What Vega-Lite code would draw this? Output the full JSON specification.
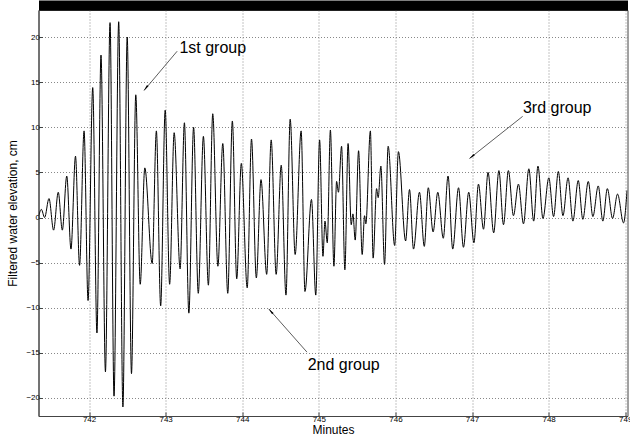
{
  "$schema": "https://vega.github.io/schema/vega-lite/v6.json",
  "width": 589,
  "height": 406,
  "autosize": {"type": "none"},
  "padding": {"left": 38.5, "top": 10, "right": 2.5, "bottom": 25},
  "background": "white",
  "config": {
    "font": "Liberation Sans",
    "view": {"stroke": "#444", "strokeWidth": 1}
  },
  "datasets": {
    "wave": [
      {"t": 741.344, "v": 0.2}, {"t": 741.377, "v": 0.9}, {"t": 741.420, "v": 0.0},
      {"t": 741.477, "v": 2.1}, {"t": 741.537, "v": -1.4}, {"t": 741.598, "v": 2.8},
      {"t": 741.651, "v": -1.4}, {"t": 741.709, "v": 4.6}, {"t": 741.764, "v": -3.5},
      {"t": 741.823, "v": 6.8}, {"t": 741.876, "v": -5.3}, {"t": 741.935, "v": 9.6},
      {"t": 741.987, "v": -9.2}, {"t": 742.048, "v": 14.4}, {"t": 742.103, "v": -12.8},
      {"t": 742.156, "v": 18.0}, {"t": 742.214, "v": -17.1}, {"t": 742.274, "v": 21.6},
      {"t": 742.326, "v": -19.8}, {"t": 742.387, "v": 21.7}, {"t": 742.442, "v": -21.0},
      {"t": 742.498, "v": 20.0}, {"t": 742.554, "v": -17.3}, {"t": 742.610, "v": 13.6},
      {"t": 742.668, "v": -7.4}, {"t": 742.728, "v": 5.5}, {"t": 742.824, "v": -5.1},
      {"t": 742.879, "v": 9.6}, {"t": 742.935, "v": -9.8}, {"t": 742.994, "v": 11.9},
      {"t": 743.052, "v": -7.4}, {"t": 743.111, "v": 9.4}, {"t": 743.189, "v": -5.7},
      {"t": 743.245, "v": 10.5}, {"t": 743.303, "v": -10.6}, {"t": 743.365, "v": 10.0},
      {"t": 743.426, "v": -8.4}, {"t": 743.493, "v": 9.0}, {"t": 743.558, "v": -7.5},
      {"t": 743.615, "v": 11.5}, {"t": 743.682, "v": -5.4}, {"t": 743.746, "v": 8.2},
      {"t": 743.811, "v": -8.4}, {"t": 743.871, "v": 10.7}, {"t": 743.928, "v": -6.8},
      {"t": 743.988, "v": 6.0}, {"t": 744.065, "v": -7.8}, {"t": 744.121, "v": 8.7},
      {"t": 744.184, "v": -6.7}, {"t": 744.245, "v": 4.2}, {"t": 744.319, "v": -6.3},
      {"t": 744.378, "v": 8.6}, {"t": 744.443, "v": -6.3}, {"t": 744.509, "v": 5.8},
      {"t": 744.571, "v": -8.6}, {"t": 744.626, "v": 10.9}, {"t": 744.691, "v": -4.1},
      {"t": 744.769, "v": 9.6}, {"t": 744.819, "v": -8.2}, {"t": 744.904, "v": 2.0},
      {"t": 744.960, "v": -8.6}, {"t": 745.010, "v": 8.6}, {"t": 745.054, "v": -4.3},
      {"t": 745.080, "v": -0.4}, {"t": 745.110, "v": -2.8}, {"t": 745.151, "v": 9.7},
      {"t": 745.197, "v": -5.4}, {"t": 745.232, "v": 4.0}, {"t": 745.256, "v": 2.8},
      {"t": 745.297, "v": 7.9}, {"t": 745.340, "v": -5.8}, {"t": 745.382, "v": 8.2},
      {"t": 745.423, "v": -0.8}, {"t": 745.445, "v": 0.4}, {"t": 745.475, "v": -2.5},
      {"t": 745.519, "v": 7.4}, {"t": 745.566, "v": -4.1}, {"t": 745.597, "v": 0.2},
      {"t": 745.614, "v": -0.7}, {"t": 745.673, "v": 9.6}, {"t": 745.709, "v": -4.5},
      {"t": 745.754, "v": 3.2}, {"t": 745.775, "v": 2.2}, {"t": 745.810, "v": 5.7},
      {"t": 745.858, "v": -5.2}, {"t": 745.905, "v": 7.9}, {"t": 745.990, "v": -3.1},
      {"t": 746.039, "v": 7.3}, {"t": 746.133, "v": -2.6}, {"t": 746.184, "v": 3.1},
      {"t": 746.236, "v": -3.5}, {"t": 746.314, "v": 2.8}, {"t": 746.377, "v": -3.2},
      {"t": 746.429, "v": 3.3}, {"t": 746.492, "v": -1.6}, {"t": 746.553, "v": 2.8},
      {"t": 746.625, "v": -2.3}, {"t": 746.687, "v": 4.6}, {"t": 746.748, "v": -3.5},
      {"t": 746.824, "v": 3.3}, {"t": 746.888, "v": -3.3}, {"t": 746.957, "v": 2.8},
      {"t": 747.025, "v": -2.8}, {"t": 747.084, "v": 3.7}, {"t": 747.150, "v": -1.3},
      {"t": 747.209, "v": 5.0}, {"t": 747.283, "v": -1.7}, {"t": 747.351, "v": 5.2},
      {"t": 747.411, "v": -0.8}, {"t": 747.475, "v": 5.2}, {"t": 747.541, "v": 0.2},
      {"t": 747.606, "v": 3.7}, {"t": 747.672, "v": -0.7}, {"t": 747.742, "v": 5.4},
      {"t": 747.805, "v": -0.4}, {"t": 747.861, "v": 5.7}, {"t": 747.926, "v": -0.1},
      {"t": 748.003, "v": 4.4}, {"t": 748.065, "v": 0.1}, {"t": 748.127, "v": 5.1},
      {"t": 748.187, "v": 0.2}, {"t": 748.254, "v": 4.4}, {"t": 748.317, "v": -0.4},
      {"t": 748.387, "v": 4.1}, {"t": 748.447, "v": -0.2}, {"t": 748.518, "v": 4.0},
      {"t": 748.578, "v": 0.1}, {"t": 748.648, "v": 3.5}, {"t": 748.708, "v": -0.4},
      {"t": 748.767, "v": 3.2}, {"t": 748.835, "v": -0.1}, {"t": 748.900, "v": 2.6},
      {"t": 748.978, "v": -0.6}, {"t": 749.024, "v": 3.0}
    ],
    "notes": [
      {"label": "1st group", "t": 743.180, "v": 18.27, "t0": 743.150, "v0": 18.43, "t1": 742.720, "v1": 14.10, "th": 742.748, "vh": 14.42},
      {"label": "2nd group", "t": 744.854, "v": -16.91, "t0": 744.845, "v0": -14.92, "t1": 744.349, "v1": -10.15, "th": 744.380, "vh": -10.46},
      {"label": "3rd group", "t": 747.665, "v": 11.63, "t0": 747.661, "v0": 11.21, "t1": 746.970, "v1": 6.56, "th": 747.005, "vh": 6.80}
    ]
  },
  "resolve": {"axis": {"x": "independent"}},
  "layer": [
    {
      "data": {"name": "wave"},
      "mark": {"type": "line", "interpolate": "monotone", "color": "#000", "strokeWidth": 1, "clip": true},
      "encoding": {
        "x": {
          "field": "t", "type": "quantitative",
          "scale": {"domain": [741.34, 749.03], "nice": false, "zero": false},
          "axis": {
            "values": [742, 743, 744, 745, 746, 747, 748, 749], "format": "d",
            "title": "Minutes", "titleFontSize": 12, "titleFontWeight": "normal", "titleColor": "#000", "titlePadding": 1,
            "labelFontSize": 8, "labelColor": "#000", "labelPadding": 3,
            "tickSize": -4, "tickColor": "#444", "domainColor": "#444",
            "grid": true, "gridDash": [1, 2], "gridColor": "#888", "gridOpacity": 1
          }
        },
        "y": {
          "field": "v", "type": "quantitative",
          "scale": {"domain": [-22, 23], "nice": false, "zero": false},
          "axis": {
            "values": [-20, -15, -10, -5, 0, 5, 10, 15, 20],
            "title": "Filtered water elevation, cm", "titleFontSize": 12, "titleFontWeight": "normal", "titleColor": "#000", "titlePadding": 6,
            "labelFontSize": 8, "labelColor": "#000", "labelPadding": 3,
            "tickSize": -4, "tickColor": "#444", "domainColor": "#444",
            "grid": true, "gridDash": [1, 2], "gridColor": "#888", "gridOpacity": 1
          }
        }
      }
    },
    {
      "data": {"name": "notes"},
      "mark": {"type": "rule", "color": "#333", "strokeWidth": 0.8},
      "encoding": {
        "x": {"field": "t0", "type": "quantitative", "axis": {"orient": "top", "labels": false, "ticks": false, "grid": false, "title": null, "domainColor": "#000", "domainWidth": 10, "offset": 5}},
        "y": {"field": "v0", "type": "quantitative"},
        "x2": {"field": "t1"},
        "y2": {"field": "v1"}
      }
    },
    {
      "data": {"name": "notes"},
      "transform": [{"filter": "datum.label == '1st group'"}],
      "mark": {"type": "point", "shape": "wedge", "filled": true, "color": "#000", "size": 60, "angle": 218.5, "opacity": 1},
      "encoding": {
        "x": {"field": "th", "type": "quantitative", "axis": null},
        "y": {"field": "vh", "type": "quantitative"}
      }
    },
    {
      "data": {"name": "notes"},
      "transform": [{"filter": "datum.label == '2nd group'"}],
      "mark": {"type": "point", "shape": "wedge", "filled": true, "color": "#000", "size": 60, "angle": 318.5, "opacity": 1},
      "encoding": {
        "x": {"field": "th", "type": "quantitative", "axis": null},
        "y": {"field": "vh", "type": "quantitative"}
      }
    },
    {
      "data": {"name": "notes"},
      "transform": [{"filter": "datum.label == '3rd group'"}],
      "mark": {"type": "point", "shape": "wedge", "filled": true, "color": "#000", "size": 60, "angle": 231.6, "opacity": 1},
      "encoding": {
        "x": {"field": "th", "type": "quantitative", "axis": null},
        "y": {"field": "vh", "type": "quantitative"}
      }
    },
    {
      "data": {"name": "notes"},
      "mark": {"type": "text", "align": "left", "baseline": "alphabetic", "fontSize": 16, "color": "#000", "font": "Liberation Sans"},
      "encoding": {
        "x": {"field": "t", "type": "quantitative", "axis": null},
        "y": {"field": "v", "type": "quantitative"},
        "text": {"field": "label"}
      }
    }
  ]
}
